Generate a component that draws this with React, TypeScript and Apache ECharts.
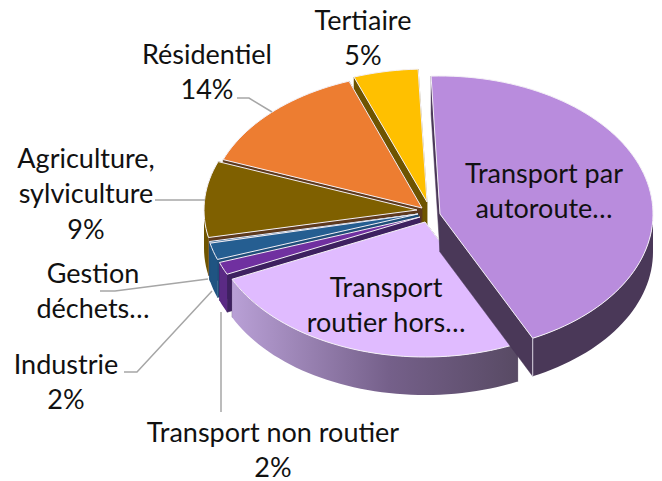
import React, { useEffect, useRef } from "react";
import * as echarts from "echarts";

// clockwise from the first slice
const categories = ["Transport par autoroute", "Transport routier hors autoroute", "Transport non routier", "Industrie", "Gestion déchets", "Agriculture, sylviculture", "Résidentiel", "Tertiaire"];
const shares = [43.5, 25.2, 1.5, 2.0, 0.2, 9.1, 13.6, 4.9];
const topColors = ["#B98CDD", "#E0BBFF", "#7030A0", "#255E91", "#255E91", "#7F6000", "#ED7D31", "#FFC000"];
const wallColors = ["#4A3858", "#B9A0D6", "#5A2A84", "#1F5482", "#1F5482", "#6E5400", "#5E3A1E", "#6E5400"];
const faceColors = ["#4A3858", "#584A64", "#3E2160", "#1F4E79", "#1F4E79", "#5E3A1E", "#5E3A1E", "#6E5400"];
const outsideLabels = [
  ["Tertiaire", "5%"],
  ["Résidentiel", "14%"],
  ["Agriculture,", "sylviculture", "9%"],
  ["Gestion", "déchets…"],
  ["Industrie", "2%"],
  ["Transport non routier", "2%"],
];
const insideLabels = [
  ["Transport par", "autoroute…"],
  ["Transport", "routier hors…"],
];

export default function App() {
  const ref = useRef<HTMLDivElement>(null);
  useEffect(() => {
    const chart = echarts.init(ref.current!, undefined, { renderer: "svg" });
    const total = shares.reduce((a, b) => a + b, 0);
    const startAngle = -2.4;
    const depth = 38;
    const centres = [
      [440, 214, 213, 138],
      [425, 222, 213, 135],
      [420, 217, 213, 135],
      [418, 214, 213, 135],
      [418, 214, 213, 135],
      [417, 210, 213, 135],
      [422, 208, 213, 135],
      [427, 202, 213, 133],
    ];
    const angles: number[] = [startAngle];
    shares.forEach((v) => angles.push(angles[angles.length - 1] + (v / total) * 360));

    const renderItem = (params: any) => {
      const i = categories.length - 1 - params.dataIndex;
      const [cx, cy, rx, ry] = centres[i];
      const a0 = angles[i];
      const a1 = angles[i + 1];
      const pt = (deg: number, dy = 0) => {
        const t = (deg * Math.PI) / 180;
        return [cx + rx * Math.sin(t), cy - ry * Math.cos(t) + dy];
      };
      const arc = (from: number, to: number, dy = 0) => {
        const out: number[][] = [];
        const n = Math.max(2, Math.ceil((to - from) / 2));
        for (let k = 0; k <= n; k++) out.push(pt(from + ((to - from) * k) / n, dy));
        return out;
      };
      const apex = [cx, cy];
      const apexLow = [cx, cy + depth];
      const children: any[] = [];
      const face = faceColors[i];
      [a0, a1].forEach((a) => {
        children.push({
          type: "polygon",
          shape: { points: [apex, pt(a), pt(a, depth), apexLow] },
          style: { fill: face, stroke: face, lineWidth: 0.5 },
        });
      });
      const w0 = Math.max(a0, 90);
      const w1 = Math.min(a1, 270);
      if (w1 > w0) {
        const fill =
          i === 1
            ? new echarts.graphic.LinearGradient(0, 0, 1, 0, [
                { offset: 0, color: "#B9A0D6" },
                { offset: 0.55, color: "#75608A" },
                { offset: 1, color: "#584A64" },
              ])
            : wallColors[i];
        children.push({
          type: "polygon",
          shape: { points: [...arc(w0, w1), ...arc(w0, w1, depth).reverse()] },
          style: { fill },
        });
        if (i === 0) {
          children.push({
            type: "line",
            shape: { x1: pt(a1)[0], y1: pt(a1)[1], x2: pt(a1, depth)[0], y2: pt(a1, depth)[1] },
            style: { stroke: "#D9D2E0", lineWidth: 1 },
          });
        }
      }
      children.push({
        type: "polygon",
        shape: { points: [apex, ...arc(a0, a1)] },
        style: { fill: topColors[i], stroke: "#F4F0F6", lineWidth: 1, lineJoin: "round" },
      });
      return { type: "group", children };
    };

    const textStyle = (text: string) => ({
      text,
      fill: "#111111",
      font: "27px Lato",
      textAlign: "center",
      textVerticalAlign: "middle",
    });
    const lineStep = 35.5;
    const place = (lines: string[], x: number, y: number) =>
      lines.map((line, k) => ({
        type: "text",
        x,
        y: y + k * lineStep,
        z: 10,
        style: textStyle(line),
      }));
    const outsideAt = [
      [363, 19],
      [207, 53],
      [86, 157],
      [93, 272],
      [66, 363],
      [273, 431],
    ];
    const insideAt = [
      [544, 172],
      [386, 286],
    ];
    const leaders = [
      [[237, 98], [249, 98], [272, 112]],
      [[155, 200], [205, 200]],
      [[100, 291], [115, 291], [208, 279]],
      [[124, 372], [137, 372], [212, 291]],
      [[221, 312], [221, 412]],
    ];

    chart.setOption({
      animation: false,
      backgroundColor: "#ffffff",
      series: [
        {
          type: "custom",
          coordinateSystem: "none",
          silent: true,
          renderItem,
          data: shares.map((_, k) => [shares[shares.length - 1 - k]]),
        },
      ],
      graphic: {
        elements: [
          ...leaders.map((points) => ({
            type: "polyline",
            z: 5,
            shape: { points },
            style: { stroke: "#A6A6A6", lineWidth: 1.5, fill: "none" },
          })),
          ...outsideLabels.flatMap((lines, k) => place(lines, outsideAt[k][0], outsideAt[k][1])),
          ...insideLabels.flatMap((lines, k) => place(lines, insideAt[k][0], insideAt[k][1])),
        ],
      },
    });
    return () => chart.dispose();
  }, []);
  return <div ref={ref} style={{ position: "fixed", left: 0, top: 0, width: 662, height: 481 }} />;
}
